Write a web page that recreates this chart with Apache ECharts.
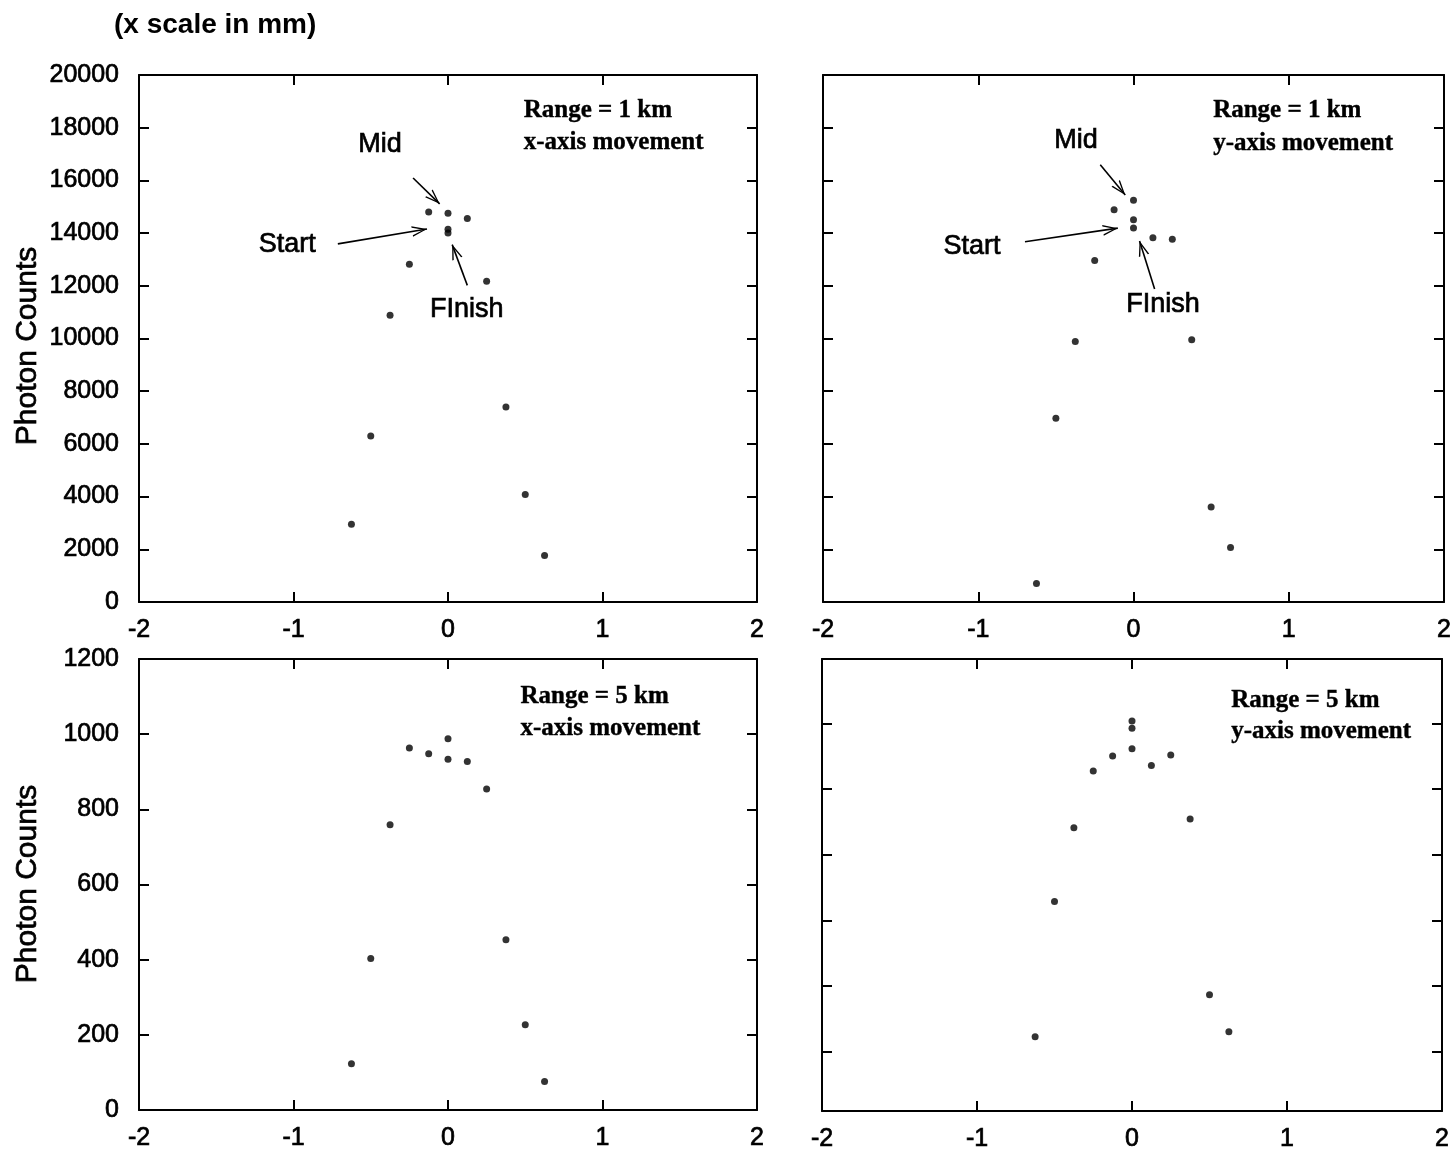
<!DOCTYPE html>
<html style="height: 100%">
<head>
  <meta charset="utf-8">
  <title>Photon counts vs offset</title>
</head>
<body style="height: 100%; margin: 0; background: #fff">
  <div id="container" style="width: 1456px; height: 1159px"></div>
  <script type="text/javascript" src="https://cdn.jsdelivr.net/npm/echarts@6.0.0/dist/echarts.min.js"></script>
  <script type="text/javascript">
    // offsets in mm
    const xTL = [-0.625, -0.5, -0.375, -0.25, -0.125, 0, 0, 0, 0.125, 0.25, 0.375, 0.5, 0.625];
    const yTL = [2950, 6300, 10880, 12820, 14800, 14750, 14150, 14000, 14550, 12170, 7400, 4080, 1760];

    const xTR = [-0.625, -0.5, -0.375, -0.25, -0.125, 0, 0, 0, 0.125, 0.25, 0.375, 0.5, 0.625];
    const yTR = [700, 6970, 9890, 12960, 14890, 15250, 14510, 14190, 13820, 13770, 9950, 3610, 2070];

    const xBL = [-0.625, -0.5, -0.375, -0.25, -0.125, 0, 0, 0.125, 0.25, 0.375, 0.5, 0.625];
    const yBL = [123, 403, 759, 963, 948, 988, 933, 927, 854, 453, 227, 76];

    const xBR = [-0.625, -0.5, -0.375, -0.25, -0.125, 0, 0, 0, 0.125, 0.25, 0.375, 0.5, 0.625];
    const yBR = [226, 638, 862, 1035, 1081, 1103, 1187, 1165, 1052, 1084, 889, 354, 241];

    // unlabeled axis of the lower right panel
    const brTicks = [180, 380, 580, 780, 980, 1180];

    // [x, y, text]
    const notesTL = [[-0.44, 17357, 'Mid'], [-1.04, 13563, 'Start'], [0.122, 11103, 'FInish']];
    const notesTR = [[-0.37, 17507, 'Mid'], [-1.04, 13487, 'Start'], [0.19, 11289, 'FInish']];
    // [x, y line1, y line2, line1, line2]
    const rangeTL = [0.49, 18665, 17428, 'Range = 1 km', 'x-axis movement'];
    const rangeTR = [0.513, 18641, 17409, 'Range = 1 km', 'y-axis movement'];
    const rangeBL = [0.469, 1099, 1015, 'Range = 5 km', 'x-axis movement'];
    const rangeBR = [0.64, 1251, 1155, 'Range = 5 km', 'y-axis movement'];

    // arrows [x1, y1, x2, y2]
    const arrowsTL = [[-0.226, 16093, -0.054, 15110], [-0.713, 13591, -0.136, 14153], [0.125, 12017, 0.027, 13563]];
    const arrowsTR = [[-0.214, 16597, -0.053, 15448], [-0.699, 13669, -0.101, 14188], [0.136, 11877, 0.039, 13697]];

    var dom = document.getElementById('container');
    var myChart = echarts.init(dom, null, { renderer: 'canvas' });

    const black = '#000';
    const sans = 'Liberation Sans';
    const heavy = { textBorderColor: '#000', textBorderWidth: 0.7 };
    const arrowHead = 'path://M0,0L0,0M100,100L100,100M50,50L68,100L63,100L50,62L37,100L32,100Z';

    function xPair(gi) {
      const base = {
        type: 'value', gridIndex: gi, min: -2, max: 2, interval: 1,
        axisLine: { show: true, onZero: false, lineStyle: { color: black, width: 2 } },
        axisTick: { show: true, inside: true, length: 10, lineStyle: { color: black, width: 2 } },
        splitLine: { show: false }
      };
      return [
        Object.assign({}, base, {
          position: 'bottom',
          axisLabel: Object.assign({ show: true, margin: 16, color: black, fontFamily: sans, fontSize: 25 }, heavy)
        }),
        Object.assign({}, base, { position: 'top', axisLabel: { show: false } })
      ];
    }

    function yPair(gi, max, interval, showLabels, customTicks) {
      const base = {
        type: 'value', gridIndex: gi, min: 0, max: max,
        axisLine: { show: true, onZero: false, lineStyle: { color: black, width: 2 } },
        axisTick: { show: true, inside: true, length: 10, lineStyle: { color: black, width: 2 } },
        splitLine: { show: false }
      };
      if (interval) base.interval = interval;
      if (customTicks) base.axisTick = Object.assign({}, base.axisTick, { customValues: customTicks });
      return [
        Object.assign({}, base, {
          position: 'left',
          axisLabel: Object.assign({
            show: showLabels, margin: 20, color: black, fontFamily: sans, fontSize: 25,
            formatter: function (v) { return String(v); }
          }, heavy)
        }),
        Object.assign({}, base, { position: 'right', axisLabel: { show: false } })
      ];
    }

    function dots(gi, xs, ys, arrows) {
      const s = {
        type: 'scatter', xAxisIndex: gi * 2, yAxisIndex: gi * 2, silent: true,
        symbolSize: 7, itemStyle: { color: black },
        data: xs.map(function (x, i) { return [x, ys[i]]; })
      };
      if (arrows) {
        s.markLine = {
          silent: true, animation: false,
          symbol: ['none', arrowHead], symbolSize: 30,
          label: { show: false },
          lineStyle: { color: black, width: 1.6, type: 'solid' },
          data: arrows.map(function (a) {
            return [{ coord: [a[0], a[1]] }, { coord: [a[2], a[3]] }];
          })
        };
      }
      return s;
    }

    function notes(gi, list, range) {
      const items = [];
      (list || []).forEach(function (n) {
        items.push({
          value: [n[0], n[1]],
          label: Object.assign({ show: true, position: 'inside', formatter: n[2], color: black, opacity: 1, fontFamily: sans, fontSize: 27 }, heavy)
        });
      });
      const serif = { show: true, position: 'right', distance: 0, color: black, opacity: 1, fontFamily: 'Liberation Serif', fontSize: 25, fontWeight: 'bold', textBorderColor: '#000', textBorderWidth: 0.4 };
      items.push({ value: [range[0], range[1]], label: Object.assign({ formatter: range[3] }, serif) });
      items.push({ value: [range[0], range[2]], label: Object.assign({ formatter: range[4] }, serif) });
      return {
        type: 'scatter', xAxisIndex: gi * 2, yAxisIndex: gi * 2, silent: true,
        symbolSize: 0, itemStyle: { color: black },
        data: items
      };
    }

    const grids = [
      { left: 139, top: 75, width: 618, height: 527 },
      { left: 823, top: 75, width: 621, height: 527 },
      { left: 139, top: 659, width: 618, height: 451 },
      { left: 822, top: 659, width: 620, height: 452 }
    ].map(function (g) { return Object.assign({ containLabel: false, outerBoundsMode: 'none', show: false }, g); });

    function vText(x, y, text) {
      return {
        type: 'text', x: x, y: y, rotation: Math.PI / 2,
        style: {
          text: text, fill: black, font: '30px "Liberation Sans"', stroke: '#000', lineWidth: 0.7,
          textAlign: 'center', textVerticalAlign: 'middle', align: 'center', verticalAlign: 'middle'
        }
      };
    }

    var option = {
      animation: false,
      backgroundColor: '#fff',
      grid: grids,
      xAxis: [].concat(xPair(0), xPair(1), xPair(2), xPair(3)),
      yAxis: [].concat(
        yPair(0, 20000, 2000, true),
        yPair(1, 20000, 2000, false),
        yPair(2, 1200, 200, true),
        yPair(3, 1376, null, false, brTicks)
      ),
      graphic: [
        {
          type: 'text', x: 114, y: 25,
          style: {
            text: '(x scale in mm)', fill: black, font: 'bold 28px "Liberation Sans"',
            textAlign: 'left', textVerticalAlign: 'middle', align: 'left', verticalAlign: 'middle'
          }
        },
        vText(28, 346, 'Photon Counts'),
        vText(28, 884, 'Photon Counts')
      ],
      series: [
        dots(0, xTL, yTL, arrowsTL),
        dots(1, xTR, yTR, arrowsTR),
        dots(2, xBL, yBL),
        dots(3, xBR, yBR),
        notes(0, notesTL, rangeTL),
        notes(1, notesTR, rangeTR),
        notes(2, null, rangeBL),
        notes(3, null, rangeBR)
      ]
    };

    myChart.setOption(option);
    window.addEventListener('resize', myChart.resize);
  </script>
</body>
</html>
